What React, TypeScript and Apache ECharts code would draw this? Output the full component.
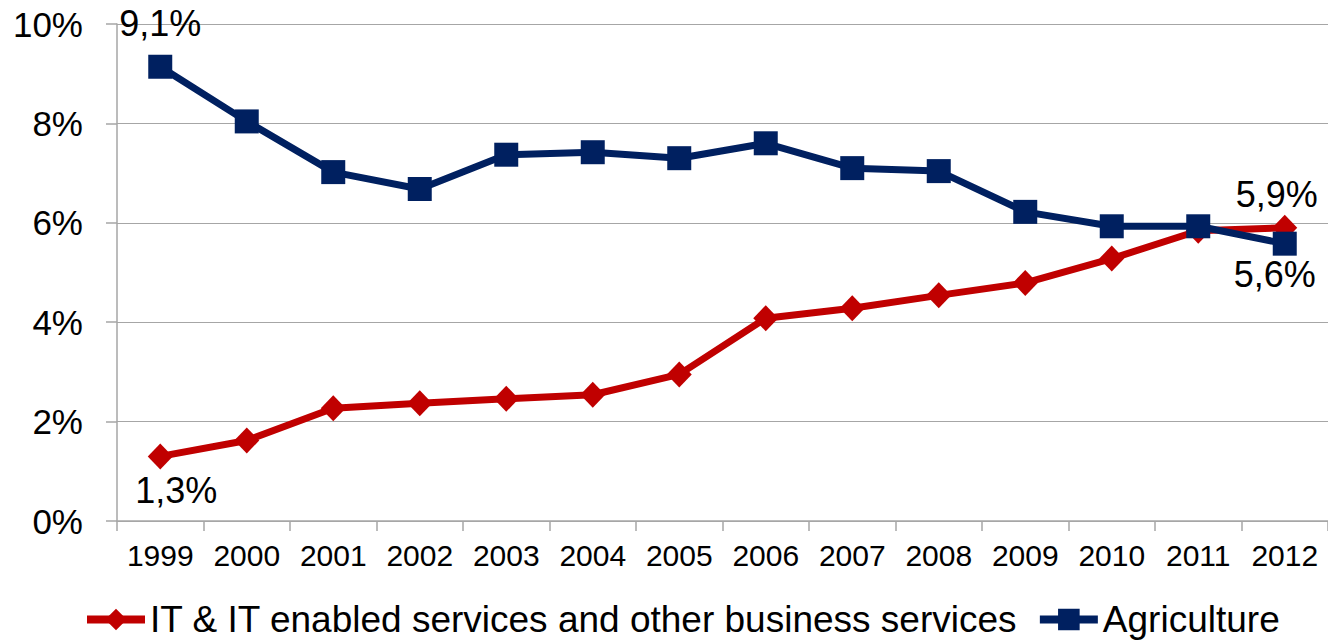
import React, { useEffect, useRef } from "react";
import * as echarts from "echarts";

const years = ["1999","2000","2001","2002","2003","2004","2005","2006","2007","2008","2009","2010","2011","2012"];
const itValues = [1.3, 1.62, 2.27, 2.37, 2.46, 2.54, 2.95, 4.08, 4.28, 4.54, 4.79, 5.28, 5.84, 5.9];
const agriValues = [9.14, 8.04, 7.02, 6.68, 7.37, 7.42, 7.3, 7.6, 7.1, 7.04, 6.22, 5.93, 5.93, 5.58];
const yTicks = [0, 2, 4, 6, 8, 10];
const itName = "IT & IT enabled services and other business services";
const agriName = "Agriculture";

const FONT = "Liberation Sans, Arial, sans-serif";
const fmt = (v: number) => v.toFixed(1).replace(".", ",") + "%";

export default function App() {
  const ref = useRef<HTMLDivElement>(null);
  useEffect(() => {
    if (!ref.current) return;
    const chart = echarts.init(ref.current, null, { renderer: "svg" });
    const last = years.length - 1;
    const itData = itValues.map((v, i) => {
      if (i === 0) return { value: v, label: { show: true, position: "bottom", distance: 3, offset: [16, 0], formatter: fmt(v) } };
      if (i === last) return { value: v, label: { show: true, position: "top", distance: 2, offset: [-8, 0], formatter: fmt(v) } };
      return v;
    });
    const agriData = agriValues.map((v, i) => {
      if (i === 0) return { value: v, label: { show: true, position: "top", distance: 13, formatter: fmt(v) } };
      if (i === last) return { value: v, label: { show: true, position: "bottom", distance: 1, offset: [-10, 0], formatter: fmt(v) } };
      return v;
    });
    chart.setOption({
      animation: false,
      textStyle: { fontFamily: FONT },
      grid: { left: 117, width: 1214, top: 24, bottom: 119, containLabel: false },
      legend: {
        top: 601,
        left: 83,
        padding: 0,
        itemWidth: 58,
        itemHeight: 27,
        itemGap: 18,
        lineStyle: { width: 8 },
        textStyle: { fontSize: 37, color: "#000", fontFamily: FONT },
        data: [itName, agriName],
      },
      xAxis: {
        type: "category",
        data: years,
        boundaryGap: true,
        axisLine: { lineStyle: { color: "#A6A6A6", width: 1.5 } },
        axisTick: { show: true, length: 10, interval: 0, lineStyle: { color: "#A6A6A6", width: 1.5 } },
        axisLabel: { color: "#000", fontSize: 30, margin: 19, interval: 0, fontFamily: FONT },
      },
      yAxis: {
        type: "value",
        min: yTicks[0],
        max: yTicks[yTicks.length - 1],
        interval: 2,
        axisLine: { show: true, lineStyle: { color: "#A6A6A6", width: 1.5 } },
        axisTick: { show: true, length: 11, lineStyle: { color: "#A6A6A6", width: 1.5 } },
        splitLine: { show: true, lineStyle: { color: "#A6A6A6", width: 1.2 } },
        axisLabel: { color: "#000", fontSize: 35, margin: 34, formatter: "{value}%", fontFamily: FONT },
      },
      series: [
        {
          name: itName,
          type: "line",
          data: itData,
          symbol: "diamond",
          symbolSize: [25, 26],
          lineStyle: { color: "#C00000", width: 7 },
          itemStyle: { color: "#C00000" },
          label: { color: "#000", fontSize: 36, fontFamily: FONT },
          z: 2,
        },
        {
          name: agriName,
          type: "line",
          data: agriData,
          symbol: "rect",
          symbolSize: 24,
          lineStyle: { color: "#002060", width: 7 },
          itemStyle: { color: "#002060" },
          label: { color: "#000", fontSize: 36, fontFamily: FONT },
          z: 3,
        },
      ],
    });
    return () => chart.dispose();
  }, []);
  return <div ref={ref} style={{ position: "absolute", left: 0, top: 0, width: 1328, height: 640 }} />;
}
